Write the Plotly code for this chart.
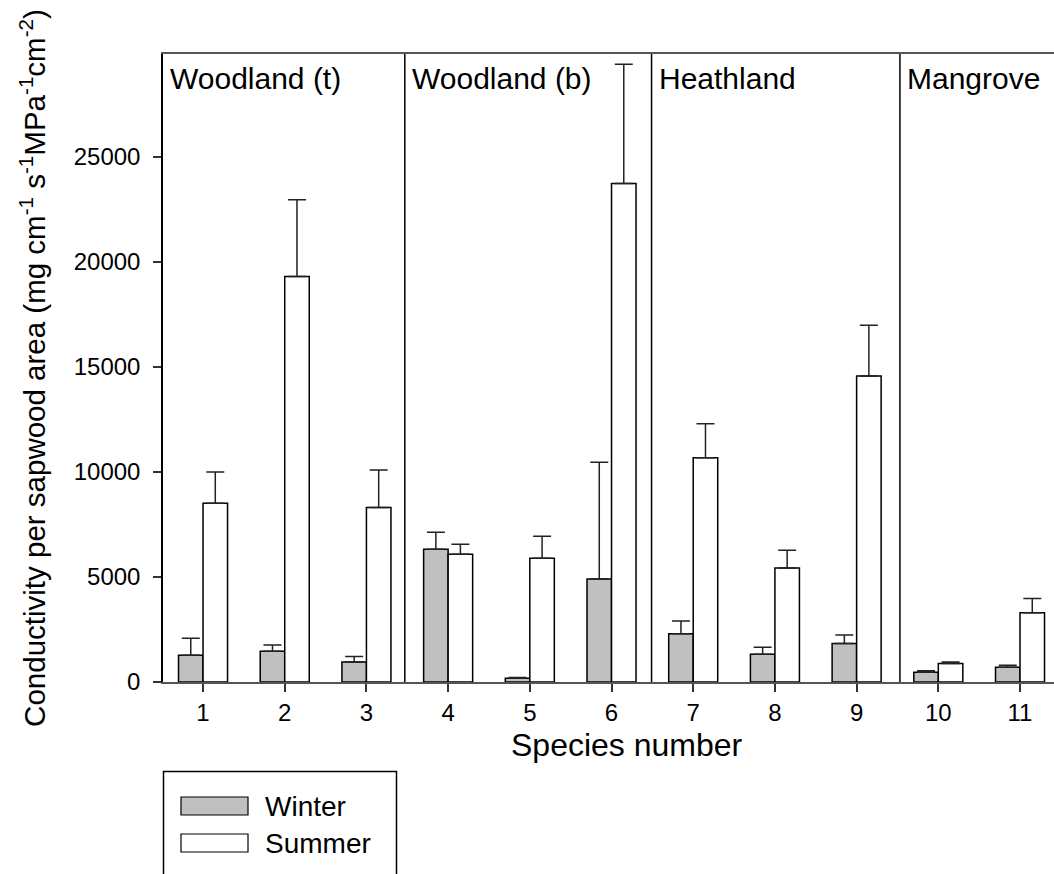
import plotly.graph_objects as go

# Hydraulic conductivity per sapwood area, by species and season (mean + SE)
species = list(range(1, 12))
tick_labels = [str(s) for s in species]
series_names = ["Winter", "Summer"]

winter = [1270, 1460, 950, 6320, 180, 4900, 2300, 1320, 1830, 460, 700]
winter_err = [810, 300, 260, 810, 40, 5560, 600, 330, 410, 80, 95]
summer = [8510, 19300, 8300, 6080, 5890, 23730, 10670, 5430, 14570, 880, 3300]
summer_err = [1480, 3650, 1790, 480, 1050, 5670, 1620, 840, 2410, 75, 670]

habitats = ["Woodland (t)", "Woodland (b)", "Heathland", "Mangrove"]
habitat_bounds = [3.47, 6.49, 9.53]

y_ticks = [0, 5000, 10000, 15000, 20000, 25000]
y_tick_labels = [str(v) for v in y_ticks]

x_title = "Species number"
y_title = ("Conductivity per sapwood area (mg cm<sup>-1</sup> s<sup>-1</sup>"
           "MPa<sup>-1</sup>cm<sup>-2</sup>)")

# page / plot geometry (pixels)
W, H = 1054, 874
ML, MR, MT, MB = 163, 0, 54, 192
PW, PH = W - ML - MR, H - MT - MB

X_RANGE = [0.51, 11.416]
Y_RANGE = [0, 29890]

FONT = "Liberation Sans, Arial, sans-serif"
GREY = "#c0c0c0"
BAR_W = 0.3


def px_to_paper_x(px):
    return (px - ML) / PW


def px_to_paper_y(py):
    return (MT + PH - py) / PH


fig = go.Figure()

fig.add_trace(go.Bar(
    x=species, y=winter, name=series_names[0],
    width=BAR_W, offset=-BAR_W,
    marker=dict(color=GREY, line=dict(color="black", width=1.5)),
    error_y=dict(type="data", symmetric=False, array=winter_err,
                 arrayminus=[0] * len(winter_err),
                 width=9, thickness=1.5, color="#222222"),
    showlegend=False,
))
fig.add_trace(go.Bar(
    x=species, y=summer, name=series_names[1],
    width=BAR_W, offset=0,
    marker=dict(color="white", line=dict(color="black", width=1.5)),
    error_y=dict(type="data", symmetric=False, array=summer_err,
                 arrayminus=[0] * len(summer_err),
                 width=9, thickness=1.5, color="#222222"),
    showlegend=False,
))

shapes = []
# habitat separators
for xb in habitat_bounds:
    shapes.append(dict(type="line", xref="x", yref="paper", x0=xb, x1=xb,
                       y0=0, y1=1, line=dict(color="black", width=1.5)))

annotations = []
starts = [X_RANGE[0]] + habitat_bounds
for name, xs in zip(habitats, starts):
    annotations.append(dict(
        text=name, x=xs, y=1, xref="x", yref="paper",
        xanchor="left", yanchor="top", xshift=5, yshift=-6,
        showarrow=False, font=dict(family=FONT, size=30, color="black"),
    ))

# x-axis caption
annotations.append(dict(
    text=x_title, x=px_to_paper_x(627), y=px_to_paper_y(745),
    xref="paper", yref="paper", xanchor="center", yanchor="middle",
    showarrow=False, font=dict(family=FONT, size=32, color="black"),
))

# legend box, drawn by hand so the swatches are wide rectangles
shapes.append(dict(type="rect", xref="paper", yref="paper",
                   x0=px_to_paper_x(163.5), x1=px_to_paper_x(396.5),
                   y0=px_to_paper_y(771.5), y1=px_to_paper_y(900),
                   line=dict(color="black", width=1.5), fillcolor="rgba(0,0,0,0)"))
swatches = [(GREY, 806), ("white", 843)]
for (fill, cy), label in zip(swatches, series_names):
    shapes.append(dict(type="rect", xref="paper", yref="paper",
                       x0=px_to_paper_x(181), x1=px_to_paper_x(248),
                       y0=px_to_paper_y(cy + 9), y1=px_to_paper_y(cy - 9),
                       line=dict(color="black", width=1.2), fillcolor=fill))
    annotations.append(dict(
        text=label, x=px_to_paper_x(263), y=px_to_paper_y(cy),
        xref="paper", yref="paper", xanchor="left", yanchor="middle",
        showarrow=False, font=dict(family=FONT, size=28, color="black"),
    ))

fig.update_layout(
    width=W, height=H,
    margin=dict(l=ML, r=MR, t=MT, b=MB, autoexpand=False),
    paper_bgcolor="white", plot_bgcolor="white",
    font=dict(family=FONT, color="black"),
    barmode="overlay",
    shapes=shapes, annotations=annotations,
    xaxis=dict(
        range=X_RANGE, tickmode="array", tickvals=species, ticktext=tick_labels,
        ticks="outside", ticklen=8, tickwidth=1.5, tickcolor="#333333",
        showline=True, linecolor="#555555", linewidth=1.5, mirror=True,
        showgrid=False, zeroline=False,
        tickfont=dict(family=FONT, size=24, color="black"),
    ),
    yaxis=dict(
        range=Y_RANGE, tickmode="array", tickvals=y_ticks, ticktext=y_tick_labels,
        ticks="outside", ticklen=8, tickwidth=1.5, tickcolor="#333333",
        showline=True, linecolor="black", linewidth=1.5, mirror=False,
        showgrid=False, zeroline=False,
        tickfont=dict(family=FONT, size=24, color="black"),
        ticklabelstandoff=8,
        title=dict(text=y_title, standoff=19,
                   font=dict(family=FONT, size=29.5, color="black")),
    ),
)

fig.write_html("out.html")
